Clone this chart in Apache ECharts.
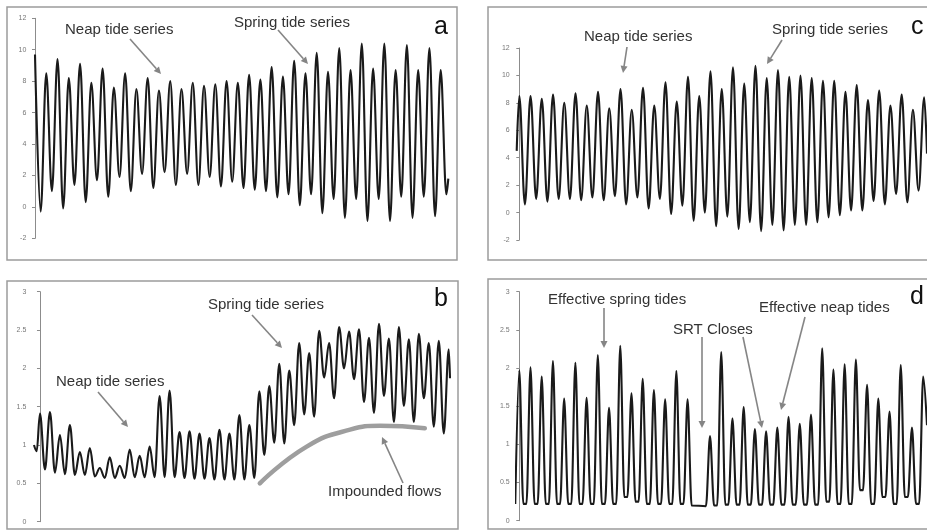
<!DOCTYPE html>
<html><head><meta charset="utf-8">
<script src="https://cdn.jsdelivr.net/npm/echarts@6/dist/echarts.min.js"></script>
<style>html,body{margin:0;padding:0;background:#fff}#c{width:927px;height:532px}</style>
</head><body><div id="c"></div>
<script>
// ---------- Panel a : water level extremes (high / low water) ----------
const aHighs = [9.7, 8.5, 9.4, 8.2, 9.1, 7.9, 8.8, 7.6, 8.5, 7.5, 8.2, 7.4, 8.0, 7.5, 7.9, 7.7, 7.8, 8.0, 7.9, 8.4,
                8.1, 8.9, 8.3, 9.3, 8.5, 9.8, 8.6, 10.1, 8.7, 10.4, 8.8, 10.4, 8.7, 10.3, 8.7, 10.1, 8.7];
const aLows  = [-0.3, 1.0, -0.1, 1.4, 0.3, 1.7, 0.65, 1.9, 1.0, 2.1, 1.2, 2.2, 1.4, 2.1, 1.4, 1.9, 1.3, 1.6, 1.2, 1.1,
                1.0, 0.6, 0.8, 0.1, 0.8, -0.4, 0.5, -0.7, 0.5, -0.9, 0.5, -0.9, 0.65, -0.7, 0.65, -0.6, 0.8];
const aEndValue = 1.8;
const levelTicks = ['-2', '0', '2', '4', '6', '8', '10', '12'];

// ---------- Panel c : water level extremes ----------
const cStartValue = 4.5;
const cHighs = [8.5, 8.5, 8.3, 8.6, 8.0, 8.7, 7.8, 8.8, 7.6, 9.0, 7.5, 9.1, 7.8, 9.5, 8.1, 9.9, 8.5, 10.3, 9.0, 10.6,
                9.4, 10.7, 9.8, 10.4, 9.9, 10.0, 9.8, 9.6, 9.6, 8.8, 9.3, 8.2, 8.9, 7.8, 8.6, 7.5, 8.4];
const cLows  = [0.6, 1.0, 0.8, 1.0, 1.0, 0.9, 1.1, 0.9, 1.2, 0.6, 1.1, 0.3, 1.0, -0.1, 0.5, -0.6, 0.0, -1.0, -0.3, -1.2,
                -0.7, -1.35, -0.9, -1.3, -0.9, -0.9, -0.7, -0.35, -0.2, 0.15, 0.15, 0.85, 0.6, 1.35, 0.75, 1.6];
const cEndValue = 4.3;

// ---------- Panel b : flow extremes ----------
const bStartValues = [1.0, 0.92];
const bHighs = [1.41, 1.43, 1.13, 1.26, 0.91, 0.96, 0.70, 0.84, 0.73, 0.94, 0.86, 0.98, 1.64, 1.71, 1.17, 1.18, 1.15, 1.09, 1.20, 1.15,
                1.39, 1.26, 1.70, 1.77, 2.06, 1.97, 2.33, 2.20, 2.49, 2.33, 2.54, 2.48, 2.51, 2.40, 2.58, 2.39, 2.54, 2.38, 2.45, 2.33,
                2.36, 2.25];
const bLows  = [0.68, 0.64, 0.62, 0.61, 0.61, 0.59, 0.57, 0.57, 0.57, 0.58, 0.58, 0.58, 0.58, 0.58, 0.57, 0.56, 0.56, 0.55, 0.55, 0.55,
                0.55, 0.57, 0.87, 1.03, 1.02, 1.26, 1.40, 1.37, 1.88, 1.61, 2.00, 1.86, 1.56, 1.42, 1.64, 1.30, 1.51, 1.30, 1.61, 1.24,
                1.15];
const bEndValue = 1.87;
// impounded-flow envelope sketched under panel b (index, flow)
const impoundedIdx  = [44.1, 53.5, 62.2, 68.2, 77.2];
const impoundedFlow = [0.50, 0.98, 1.20, 1.25, 1.22];
const flowTicks = ['0', '0.5', '1', '1.5', '2', '2.5', '3'];

// ---------- Panel d : flow peaks per tide (null = no peak, SRT closed) and base flows between ----------
const dPeaks = [1.97, 2.01, 1.89, 2.09, 1.60, 2.07, 1.61, 2.17, 1.48, 2.29, 1.67, 1.86, 1.71, 1.59, 1.96, 1.59, null, 1.11, 2.21, 1.34,
                1.49, 1.20, 1.17, 1.22, 1.36, 1.27, 1.39, 2.26, 1.98, 2.05, 2.11, 1.78, 1.60, 1.43, 2.04, 1.22, 1.89];
const dBases = [0.22, 0.22, 0.22, 0.22, 0.22, 0.22, 0.22, 0.22, 0.22, 0.31, 0.25, 0.22, 0.22, 0.22, 0.22, 0.20, 0.19, 0.20, 0.21, 0.21,
                0.21, 0.21, 0.21, 0.21, 0.21, 0.21, 0.21, 0.25, 0.22, 0.22, 0.40, 0.22, 0.31, 0.22, 0.31, 0.22];
const dStartBase = 0.22;
const dEndValue = 1.25;

// ---------- build series from the arrays ----------
function alternate(highs, lows) {
  const out = [];
  for (let i = 0; i < highs.length; i++) { out.push(highs[i]); if (i < lows.length) out.push(lows[i]); }
  return out.map((v, i) => [i, v]);
}
const aData = alternate(aHighs, aLows);
aData.push([73.35, aEndValue]);

const cData = [[-0.46, cStartValue]].concat(alternate(cHighs, cLows));
cData.push([72.5, cEndValue]);

const bData = [[-1.2, bStartValues[0]], [-0.66, bStartValues[1]]].concat(alternate(bHighs, bLows));
bData.push([82.25, bEndValue]);

const halfWidth = 0.36;
const dData = [];
dPeaks.forEach((p, k) => {
  if (p === null) return;
  const before = k === 0 ? dStartBase : dBases[k - 1];
  dData.push([k - halfWidth, before], [k, p]);
  if (k < dPeaks.length - 1) dData.push([k + halfWidth, dBases[k]]);
});
dData.push([36.34, dEndValue]);

const impData = impoundedIdx.map((x, i) => [x, impoundedFlow[i]]);

// ---------- chart ----------
const FONT = '"Liberation Sans", Arial, sans-serif';
function yAx(g, min, max, interval) {
  return {
    gridIndex: g, type: 'value', min: min, max: max, interval: interval,
    axisLine: { show: true, lineStyle: { color: '#8c8c8c', width: 1 } },
    axisTick: { show: true, length: 3, lineStyle: { color: '#8c8c8c' } },
    axisLabel: { fontSize: 7, color: '#777', margin: 7, fontFamily: FONT },
    splitLine: { show: false }
  };
}
function xAx(g, min, max) { return { gridIndex: g, type: 'value', min: min, max: max, show: false }; }
function tideLine(g, data, smooth) {
  return {
    type: 'line', xAxisIndex: g, yAxisIndex: g, data: data, showSymbol: false, symbol: 'none',
    smooth: smooth, smoothMonotone: 'x', clip: true, silent: true,
    lineStyle: { color: '#1a1a1a', width: 2.1 }
  };
}

const g = [];
function frame(x, y, w, h) {
  g.push({ type: 'rect', shape: { x: x, y: y, width: w, height: h }, style: { fill: 'none', stroke: '#9c9c9c', lineWidth: 1.5 }, z: 1 });
}
function label(text, x, y, size, color) {
  g.push({ type: 'text', x: x, y: y, style: { text: text, font: size + 'px ' + FONT, fill: color || '#333', align: 'left', verticalAlign: 'middle' }, z: 5 });
}
function arrow(x1, y1, x2, y2) {
  const dx = x2 - x1, dy = y2 - y1, len = Math.sqrt(dx * dx + dy * dy);
  const ux = dx / len, uy = dy / len, L = 7, W = 3.5;
  const bx = x2 - ux * L, by = y2 - uy * L;
  g.push({ type: 'line', shape: { x1: x1, y1: y1, x2: bx, y2: by }, style: { stroke: '#858585', lineWidth: 1.6 }, z: 5 });
  g.push({ type: 'polygon', shape: { points: [[x2, y2], [bx - uy * W, by + ux * W], [bx + uy * W, by - ux * W]] }, style: { fill: '#858585' }, z: 5 });
}

frame(7, 7, 450, 253);
frame(488, 7, 460, 253);
frame(7, 281, 451, 248);
frame(488, 279, 460, 250);

// panel a
label('Neap tide series', 65, 30, 15);
label('Spring tide series', 234, 23, 15);
label('a', 434, 27, 25, '#111');
arrow(130, 39, 161, 74);
arrow(278, 30, 308, 64);
// panel c
label('Neap tide series', 584, 37, 15);
label('Spring tide series', 772, 30, 15);
label('c', 911, 27, 25, '#111');
arrow(627, 47, 623, 73);
arrow(782, 40, 767, 64);
// panel b
label('Spring tide series', 208, 305, 15);
label('Neap tide series', 56, 382, 15);
label('Impounded flows', 328, 492, 15);
label('b', 434, 299, 25, '#111');
arrow(252, 315, 282, 348);
arrow(98, 392, 128, 427);
arrow(403, 483, 382, 437);
// panel d
label('Effective spring tides', 548, 300, 15);
label('SRT Closes', 673, 330, 15);
label('Effective neap tides', 759, 308, 15);
label('d', 910, 297, 25, '#111');
arrow(604, 308, 604, 348);
arrow(702, 337, 702, 428);
arrow(743, 337, 762, 428);
arrow(805, 317, 781, 410);

const chart = echarts.init(document.getElementById('c'));
chart.setOption({
  animation: false,
  backgroundColor: '#fff',
  grid: [
    { left: 33.3, top: 18.3, width: 415, height: 220 },
    { left: 33.3, top: 291.7, width: 416.7, height: 230 },
    { left: 516.7, top: 48, width: 410.3, height: 192 },
    { left: 516.7, top: 291.7, width: 410.3, height: 229 }
  ],
  xAxis: [xAx(0, -0.3, 73.35), xAx(1, -1.34, 82.25), xAx(2, -0.46, 72.5), xAx(3, -0.23, 36.34)],
  yAxis: [yAx(0, Number(levelTicks[0]), Number(levelTicks[levelTicks.length - 1]), 2),
          yAx(1, Number(flowTicks[0]), Number(flowTicks[flowTicks.length - 1]), 0.5),
          yAx(2, Number(levelTicks[0]), Number(levelTicks[levelTicks.length - 1]), 2),
          yAx(3, Number(flowTicks[0]), Number(flowTicks[flowTicks.length - 1]), 0.5)],
  series: [
    tideLine(0, aData, 0.36),
    tideLine(1, bData, 0.36),
    tideLine(2, cData, 0.36),
    tideLine(3, dData, 0.32),
    {
      type: 'line', xAxisIndex: 1, yAxisIndex: 1, data: impData, showSymbol: false, symbol: 'none',
      smooth: 0.5, silent: true, lineStyle: { color: '#9e9e9e', width: 4.5, cap: 'round' }
    }
  ],
  graphic: g
});
</script>
</body></html>
